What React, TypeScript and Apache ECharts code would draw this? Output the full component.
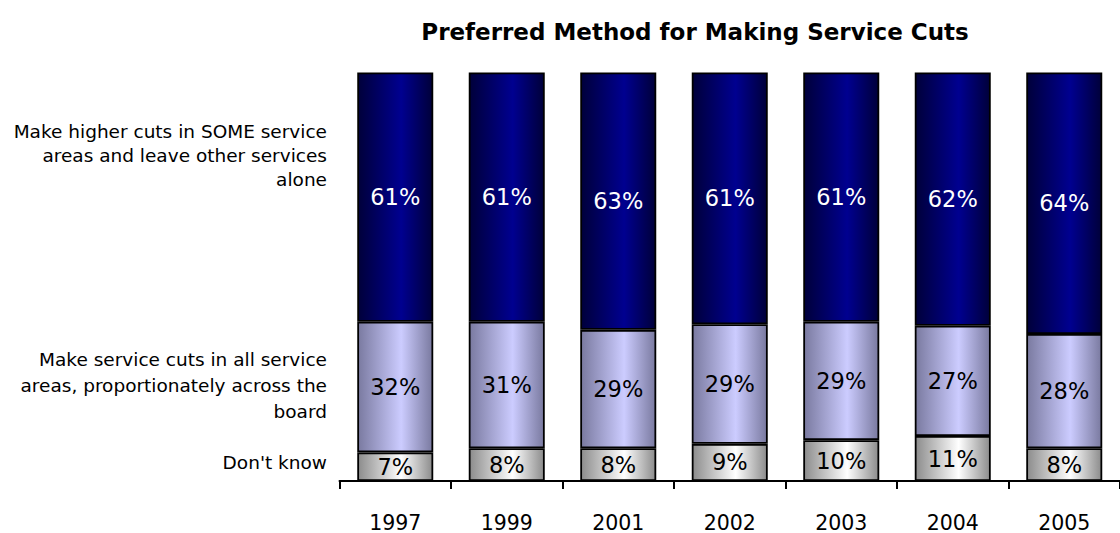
import React, { useEffect, useRef } from "react";
import * as echarts from "echarts";

const years = ["1997", "1999", "2001", "2002", "2003", "2004", "2005"];
const dontKnow = [7, 8, 8, 9, 10, 11, 8];
const proportional = [32, 31, 29, 29, 29, 27, 28];
const someAreas = [61, 61, 63, 61, 61, 62, 64];

const title = "Preferred Method for Making Service Cuts";
const sideLabels = [
  { lines: ["Make higher cuts in SOME service", "areas and leave other services", "alone"], y: 131, step: 24 },
  { lines: ["Make service cuts in all service", "areas, proportionately across the", "board"], y: 359, step: 26 },
  { lines: ["Don't know"], y: 462, step: 25 },
];

const FONT = "'DejaVu Sans', Verdana, Tahoma, sans-serif";

function grad(edge: string, mid: string) {
  return new echarts.graphic.LinearGradient(0, 0, 1, 0, [
    { offset: 0, color: edge },
    { offset: 0.58, color: mid },
    { offset: 1, color: edge },
  ]);
}

export default function App() {
  const ref = useRef<HTMLDivElement>(null);
  useEffect(() => {
    if (!ref.current) return;
    const chart = echarts.init(ref.current, undefined, { renderer: "svg" });
    const totals = years.map((_, i) => dontKnow[i] + proportional[i] + someAreas[i]);
    const share = (arr: number[]) => arr.map((v, i) => (v / totals[i]) * 100);
    const mkSeries = (name: string, raw: number[], fill: any, textColor: string) => ({
      name,
      type: "bar",
      stack: "all",
      barWidth: 76,
      data: share(raw),
      itemStyle: { color: fill, borderColor: "#000", borderWidth: 1.8 },
      label: {
        show: true,
        position: "inside",
        formatter: (p: any) => raw[p.dataIndex] + "%",
        color: textColor,
        fontFamily: FONT,
        fontSize: 22.5,
      },
    });
    const graphics: any[] = [];
    sideLabels.forEach((g) => {
      g.lines.forEach((line, k) => {
        graphics.push({
          type: "text",
          x: 327,
          y: g.y + k * g.step,
          style: {
            text: line,
            fill: "#000",
            font: `18.5px ${FONT}`,
            textAlign: "right",
            textVerticalAlign: "middle",
          },
        });
      });
    });
    chart.setOption({
      animation: false,
      backgroundColor: "#fff",
      title: {
        text: title,
        left: 690,
        top: 15,
        textAlign: "center",
        textStyle: { fontFamily: FONT, fontSize: 23, fontWeight: "bold", color: "#000" },
      },
      grid: { left: 339.5, width: 782, top: 72.5, height: 408.5 },
      xAxis: {
        type: "category",
        data: years,
        boundaryGap: true,
        axisLine: { lineStyle: { color: "#000", width: 2 } },
        axisTick: { show: true, length: 8, lineStyle: { color: "#000", width: 2 } },
        axisLabel: { color: "#000", fontFamily: FONT, fontSize: 20.5, margin: 31 },
      },
      yAxis: {
        type: "value",
        min: 0,
        max: 100,
        show: false,
        splitLine: { show: false },
      },
      graphic: graphics,
      series: [
        mkSeries("Don't know", dontKnow, grad("#8c8c8c", "#ffffff"), "#000"),
        mkSeries("Proportional", proportional, grad("#7a7aa0", "#ccccff"), "#000"),
        mkSeries("Some areas", someAreas, grad("#00003a", "#000090"), "#fff"),
      ],
    });
    return () => chart.dispose();
  }, []);
  return <div ref={ref} style={{ width: 1120, height: 533, position: "absolute", left: 0, top: 0 }} />;
}
